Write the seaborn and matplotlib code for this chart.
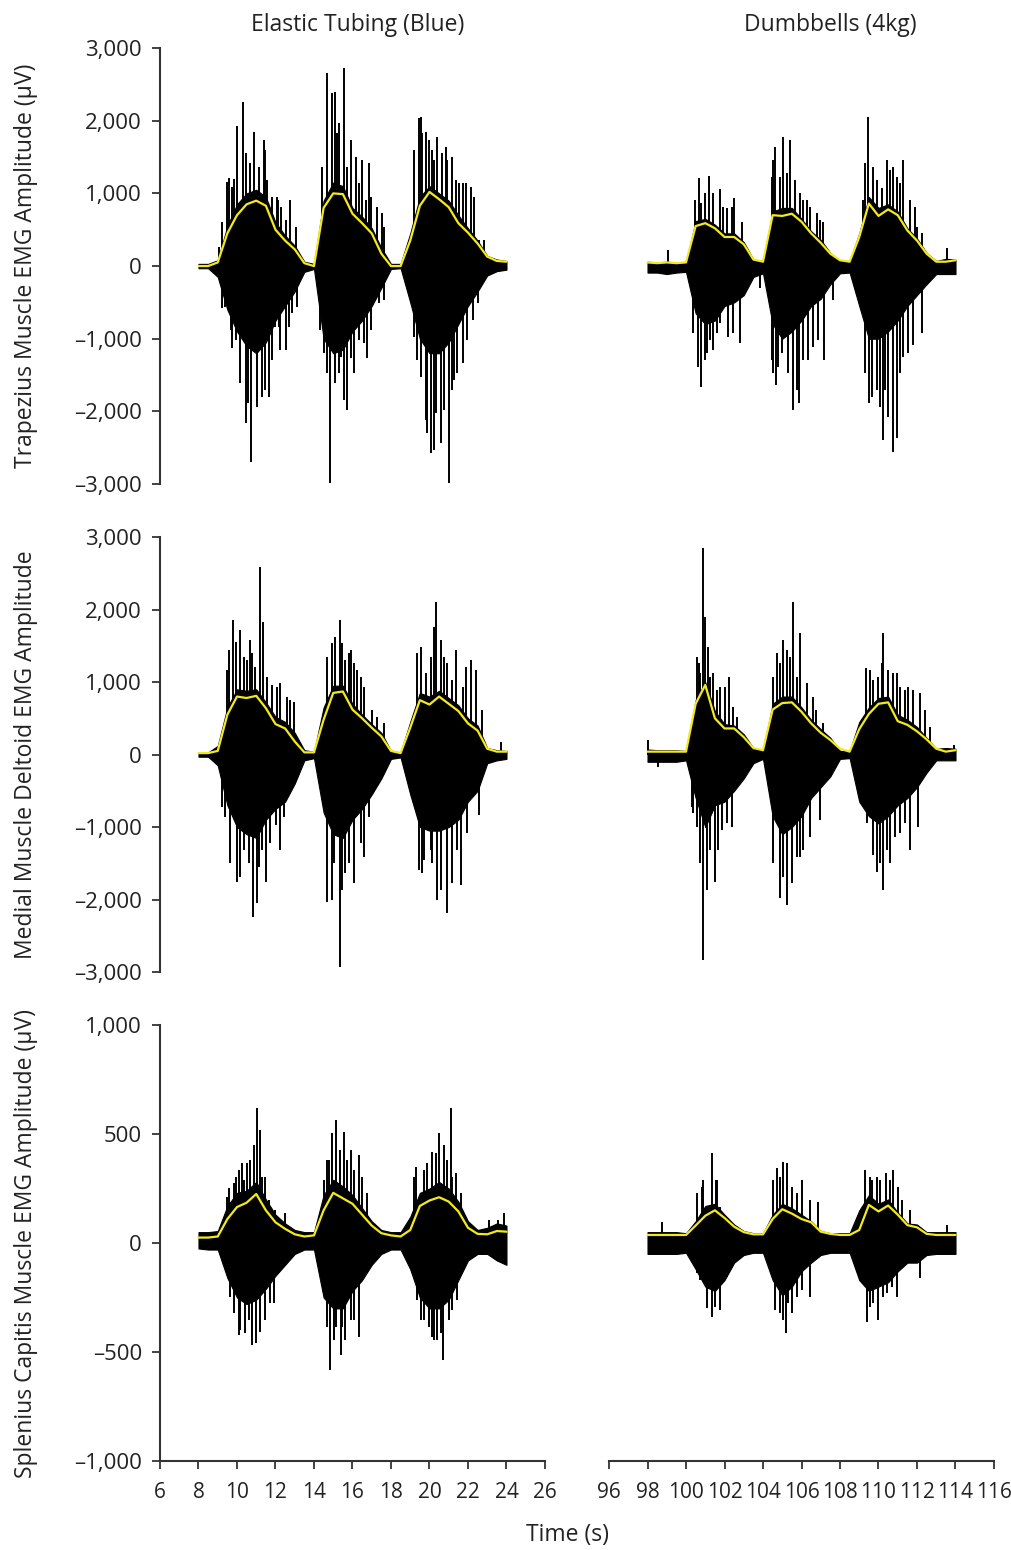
import numpy as np
import pandas as pd
import seaborn as sns
import matplotlib.pyplot as plt
from matplotlib.ticker import FuncFormatter

# sampling instants for the envelopes (0.5 s)
t_left = np.arange(8, 24.01, 0.5)
t_right = np.arange(98, 114.01, 0.5)

# ---------- Trapezius ----------
trap_el_rms = [0, 0, 50, 450, 700, 850, 900, 830, 500, 350, 230, 40, 0, 800, 1000, 990, 720,
               590, 450, 170, 0, 0, 350, 830, 1020, 920, 810, 590, 460, 310, 130, 70, 60]
trap_el_hi = [30, 30, 80, 550, 850, 1000, 1050, 950, 600, 420, 280, 60, 30, 900, 1150, 1100, 800,
              680, 520, 250, 30, 30, 450, 950, 1100, 1000, 900, 700, 520, 350, 140, 90, 70]
trap_el_lo = [-30, -30, -150, -600, -900, -1100, -1200, -1050, -750, -550, -350, -80, -40, -1000, -1200,
              -1150, -900, -750, -550, -300, -40, -30, -500, -1000, -1200, -1200, -1050, -800, -550,
              -350, -130, -70, -50]
trap_el_spk_t = [9.04, 9.2, 9.61, 9.73, 9.99, 10.29, 10.46, 10.65, 10.9, 11.12, 11.38, 11.47, 11.82, 12.3,
                 12.56, 12.77, 14.68, 14.94, 15.11, 15.29, 15.55, 15.9, 16.19, 16.5, 16.85, 16.94, 17.28,
                 17.51, 19.45, 19.54, 19.8, 19.97, 20.15, 20.41, 20.67, 20.93, 21.16, 21.54, 21.89, 22.15,
                 22.58,
                 9.21, 9.7, 10.17, 10.46, 10.74, 11.03, 11.29, 11.64, 11.99, 12.25, 12.56, 12.86, 14.51,
                 14.85, 15.11, 15.38, 15.72, 16.07, 16.33, 16.59, 16.94, 17.37, 19.19, 19.54, 19.8, 20.06,
                 20.32, 20.58, 21.02, 21.28, 21.72, 22.24, 22.5,
                 9.5, 9.85, 11.55, 12.08, 12.12, 13.05, 14.42, 15.2, 15.72, 16.33, 16.68, 17.63, 19.19,
                 19.63, 20.24, 20.84, 21.37, 21.72, 22.32, 22.84,
                 9.4, 9.75, 9.95, 10.55, 11.47, 11.82, 12.16, 12.69, 13.12, 14.33, 14.68, 15.29, 15.55,
                 15.9, 16.77, 17.63, 19.37, 19.89, 20.24, 20.75, 21.19, 21.45, 21.97]
trap_el_spk_v = [266, 600, 1206, 1090, 1927, 2261, 1560, 1422, 1850, 1367, 1734, 1596, 954, 817,
                 633, 908, 2651, 2376, 2399, 1963, 2720, 1734, 1505, 1459, 1413, 954, 817,
                 725, 2032, 2055, 1850, 1734, 1596, 1780, 1550, 1459, 1505, 1138, 1138, 1092,
                 358,
                 -583, -880, -1615, -2165, -2693, -1936, -1798, -1798, -835, -1156, -1156, -651, -1202,
                 -2991, -1615, -1248, -1982, -1477, -1018, -1064, -880, -514, -972, -1523, -2119, -2578,
                 -2028, -2440, -2991, -1569, -1340, -743, -514,
                 1150, 1200, 1180, 950, 908, 541, 1367, 1825, 1367, 1138, 908, 541, 1596,
                 1825, 1459, 1642, 1183, 1138, 954, 358,
                 -560, -1130, -1018, -1890, -1706, -1293, -835, -835, -560, -880, -1477, -1477, -1844,
                 -1270, -1270, -468, -1294, -2303, -2532, -1982, -1706, -1477, -1018]

trap_db_rms = [50, 40, 50, 40, 50, 550, 590, 520, 400, 400, 300, 90, 60, 700, 690, 720, 610,
               450, 320, 170, 80, 60, 400, 860, 690, 780, 700, 490, 350, 170, 60, 60, 80]
trap_db_hi = [60, 50, 60, 50, 50, 620, 650, 570, 450, 450, 330, 90, 70, 750, 800, 800, 650,
              480, 360, 180, 70, 70, 450, 950, 800, 850, 750, 520, 380, 180, 70, 100, 90]
trap_db_lo = [-90, -90, -110, -90, -80, -650, -800, -750, -550, -500, -400, -150, -100, -800, -1000,
              -900, -750, -550, -450, -250, -100, -90, -550, -1000, -1000, -900, -750, -550, -400,
              -250, -110, -110, -110]
trap_db_spk_t = [99.05, 100.69, 100.8, 101.17, 101.77, 102.12, 102.51, 102.89, 104.45, 104.62, 105.06,
                 105.4, 105.66, 106.1, 106.44, 106.79, 107.13, 109.3, 109.47, 109.73, 110.16, 110.46,
                 110.77, 110.94, 111.29, 111.9, 112.24, 113.54,
                 100.6, 100.78, 101.1, 101.42, 101.77, 102.2, 102.8, 103.84, 104.45, 104.66, 104.97,
                 105.57, 105.88, 106.1, 106.62, 107.18, 107.66, 109.52, 109.9, 110.21, 110.5, 110.73,
                 110.94, 111.29, 111.81, 112.24,
                 100.47, 100.99, 101.42, 101.94, 102.37, 104.54, 104.88, 105.23, 105.92, 106.27, 106.96,
                 109.21, 109.9, 110.59, 111.12, 111.64, 111.98,
                 100.38, 100.99, 101.25, 101.59, 102.46, 104.54, 104.8, 105.32, 105.75, 106.36, 106.88,
                 109.3, 109.64, 110.07, 110.33, 111.12, 111.55]
trap_db_spk_v = [220, 1206, 862, 1239, 1060, 794, 931, 610, 1229, 1642, 1780,
                 1734, 1183, 908, 817, 725, 610, 1413, 2055, 1367, 1069, 1459,
                 1367, 1229, 1459, 817, 450, 243,
                 -1385, -1661, -1202, -1156, -789, -972, -1064, -300, -1294, -1638, -1202,
                 -1982, -1890, -1294, -1110, -1294, -468, -1890, -1706, -2394, -2073, -2555,
                 -2372, -1248, -1087, -927,
                 908, 1000, 1000, 817, 817, 1459, 1229, 1275, 1000, 908, 633,
                 908, 1183, 1321, 1138, 908, 541,
                 -927, -1294, -1018, -927, -927, -1477, -1385, -1477, -1706, -1294, -1018,
                 -1477, -1798, -1936, -1706, -1477, -1202]

# ---------- Medial deltoid ----------
delt_el_rms = [20, 20, 50, 550, 800, 780, 810, 640, 420, 360, 180, 30, 30, 480, 850, 870, 620,
               500, 370, 250, 50, 20, 370, 750, 690, 800, 700, 600, 430, 330, 80, 40, 40]
delt_el_hi = [30, 30, 120, 650, 900, 880, 900, 720, 520, 450, 300, 60, 40, 650, 950, 950, 700,
              550, 420, 300, 50, 30, 450, 850, 800, 880, 780, 680, 500, 400, 90, 60, 50]
delt_el_lo = [-30, -30, -150, -700, -1000, -1100, -1150, -900, -750, -650, -400, -80, -50, -800, -1100,
              -1150, -900, -750, -550, -330, -60, -40, -550, -1000, -1050, -1050, -1000, -900, -650,
              -500, -120, -80, -60]
delt_el_spk_t = [9.61, 9.79, 9.96, 10.17, 10.51, 10.77, 10.94, 11.17, 11.34, 11.82, 12.25, 12.6, 12.98,
                 14.94, 15.11, 15.33, 15.59, 15.9, 16.24, 16.59, 17.02, 17.63, 19.54, 20.06, 20.32,
                 20.58, 20.93, 21.37, 21.89, 22.15, 22.41, 22.72, 23.7,
                 9.21, 9.38, 9.99, 10.34, 10.81, 11.12, 11.52, 11.73, 12.04, 12.42, 14.68, 14.94, 15.33,
                 15.63, 16.1, 16.42, 16.85, 19.45, 19.71, 20.06, 20.37, 20.93, 21.63, 21.97, 22.58,
                 9.47, 10.34, 10.69, 11.55, 12.08, 12.77, 14.68, 15.46, 15.81, 16.07, 16.42, 17.28,
                 19.37, 19.8, 20.24, 20.75, 21.19, 21.72,
                 9.65, 10.17, 10.6, 11.03, 11.29, 12.25, 15.03, 15.46, 15.81, 16.59, 19.62, 20.15,
                 20.58, 21.19, 21.45]
delt_el_spk_v = [1441, 1855, 1556, 1717, 1303, 1395, 1211, 2591, 1832, 961, 982, 798, 729,
                 1533, 1625, 1855, 1303, 1441, 1166, 936, 614, 430, 1487, 1349, 2108,
                 1579, 1257, 1441, 1211, 1303, 1166, 614, 177,
                 -720, -857, -1754, -1317, -2237, -1547, -1754, -1225, -972, -857, -2030, -2007, -2926,
                 -1639, -1777, -1225, -857, -1593, -1455, -1317, -2007, -2191, -1800, -1087, -834,
                 1165, 1349, 1579, 1073, 936, 752, 1349, 1533, 1395, 1257, 1073, 522,
                 1395, 1119, 1763, 1349, 1027, 936,
                 -1501, -1685, -1501, -2053, -1317, -1317, -1501, -1869, -1501, -1409, -1639, -1501,
                 -1869, -1777, -1317]

delt_db_rms = [40, 40, 40, 40, 40, 700, 960, 500, 360, 360, 240, 90, 60, 620, 710, 720, 590,
               430, 300, 200, 80, 40, 350, 560, 700, 720, 460, 410, 320, 210, 80, 40, 60]
delt_db_hi = [70, 60, 60, 60, 50, 750, 1000, 600, 420, 400, 280, 90, 50, 700, 800, 800, 650,
              480, 350, 230, 50, 50, 450, 650, 780, 800, 550, 480, 380, 230, 80, 90, 80]
delt_db_lo = [-100, -100, -100, -100, -80, -600, -1000, -700, -650, -500, -330, -120, -60, -850,
              -1100, -1000, -850, -600, -450, -300, -60, -50, -650, -850, -950, -850, -700, -600,
              -450, -250, -80, -80, -80]
delt_db_spk_t = [98.04, 100.69, 100.87, 100.99, 101.16, 101.42, 101.77, 102.25, 102.63, 104.71, 105.02,
                 105.23, 105.57, 105.92, 106.27, 106.75, 107.13, 109.33, 109.73, 110.16, 110.25, 110.77,
                 111.12, 111.38, 111.81, 112.15, 112.67, 113.9,
                 98.56, 100.29, 100.55, 100.9, 101.07, 101.5, 101.85, 102.37, 104.88, 105.23, 105.49,
                 105.92, 106.44, 109.73, 109.9, 110.25, 110.59, 111.12, 111.64, 112.07,
                 100.55, 100.73, 101.25, 101.6, 102.03, 102.46, 104.54, 104.88, 105.4, 105.75, 106.62,
                 109.56, 109.99, 110.5, 110.94, 111.55, 112.41,
                 100.38, 100.73, 101.25, 101.68, 102.12, 104.54, 105.06, 105.75, 106.1, 106.96, 109.38,
                 110.07, 110.42, 110.85, 111.38]
delt_db_spk_v = [200, 1257, 2844, 1901, 1487, 1119, 936, 1073, 522, 1395, 1579,
                 1441, 2108, 1671, 982, 614, 430, 1188, 1027, 1257, 1671, 1119,
                 936, 890, 890, 844, 384, 131,
                 -168, -720, -995, -2834, -1869, -1754, -1041, -995, -1984, -2076, -1777,
                 -1409, -1133, -1386, -1616, -1869, -1501, -1087, -1317, -995,
                 1349, 1119, 1073, 890, 936, 660, 1073, 1257, 1349, 1073, 798,
                 1165, 1073, 1165, 1119, 936, 614,
                 -811, -1501, -1317, -1317, -949, -1501, -1685, -1409, -1317, -903, -949,
                 -1501, -1317, -1133, -949]

# ---------- Splenius capitis ----------
spl_el_rms = [25, 25, 30, 110, 165, 185, 225, 150, 95, 65, 40, 30, 35, 150, 230, 205, 180,
              130, 80, 45, 35, 30, 60, 170, 195, 210, 190, 145, 70, 42, 40, 55, 52]
spl_el_hi = [50, 50, 55, 170, 230, 240, 280, 200, 130, 90, 60, 50, 50, 220, 290, 260, 220,
             160, 100, 60, 50, 50, 120, 230, 250, 280, 250, 190, 100, 60, 70, 90, 80]
spl_el_lo = [-25, -30, -30, -160, -250, -280, -260, -210, -150, -100, -50, -30, -30, -250, -300,
             -300, -220, -170, -100, -50, -30, -30, -120, -250, -300, -300, -260, -170, -80, -50,
             -50, -80, -100]
spl_el_spk_t = [9.61, 9.96, 10.26, 10.51, 10.86, 11.03, 11.2, 11.47, 11.99, 12.51, 14.68, 14.94, 15.16,
                15.33, 15.55, 15.9, 16.33, 16.77, 19.28, 19.71, 20.15, 20.5, 20.75, 21.1, 21.37, 23.1,
                23.88,
                9.65, 10.08, 10.43, 10.77, 11.2, 11.47, 11.94, 14.59, 14.85, 15.16, 15.38, 15.63, 15.9,
                16.33, 19.37, 19.71, 20.15, 20.41, 20.72, 21.02, 21.45, 23.9,
                9.47, 9.82, 10.08, 10.34, 10.69, 11.29, 11.64, 14.51, 14.77, 15.72, 16.1, 16.5, 19.19,
                19.89, 20.32, 20.93, 21.19, 21.63, 23.54,
                9.82, 10.17, 10.6, 11.0, 11.73, 14.68, 15.03, 15.46, 16.07, 19.54, 19.97, 20.24,
                20.58, 21.19]
spl_el_spk_v = [251, 304, 365, 365, 450, 618, 518, 304, 151, 136, 381, 503, 564,
                427, 511, 427, 404, 228, 350, 335, 419, 503, 450, 618, 320, 105,
                136,
                -246, -422, -414, -468, -407, -353, -277, -200, -583, -384, -514, -445, -353,
                -430, -261, -353, -430, -445, -537, -353, -261, -70,
                213, 274, 335, 289, 381, 304, 197, 289, 381, 381, 335, 304, 304,
                365, 411, 381, 304, 228, 105,
                -323, -399, -353, -460, -277, -384, -445, -384, -353, -353, -384, -445,
                -414, -307]

spl_db_rms = [37, 37, 37, 37, 37, 80, 125, 150, 115, 75, 50, 40, 40, 110, 155, 135, 110,
              95, 52, 42, 37, 37, 60, 175, 145, 172, 130, 82, 72, 42, 37, 37, 37]
spl_db_hi = [50, 50, 50, 50, 45, 100, 170, 180, 130, 85, 55, 45, 45, 130, 180, 160, 130,
             100, 55, 45, 45, 45, 150, 220, 180, 200, 140, 90, 85, 50, 50, 50, 50]
spl_db_lo = [-50, -50, -50, -50, -45, -120, -200, -220, -170, -90, -55, -45, -45, -170, -240,
             -200, -130, -90, -55, -45, -45, -45, -170, -220, -200, -180, -130, -90, -90, -55,
             -50, -50, -50]
spl_db_spk_t = [98.74, 100.82, 101.07, 101.33, 101.56, 101.77, 104.71, 105.06, 105.23, 105.49, 106.01,
                106.44, 106.88, 109.3, 109.64, 109.9, 110.37, 110.77, 111.03, 111.21, 113.54,
                98.2, 100.73, 101.07, 101.33, 101.77, 102.12, 104.62, 104.88, 105.19, 105.49, 106.01,
                106.44, 109.38, 109.56, 109.99, 110.42, 110.94, 112.15,
                100.56, 100.9, 101.6, 104.54, 104.88, 105.75, 109.56, 110.07, 110.59, 111.64,
                100.56, 101.5, 105.06, 105.32, 105.75, 109.73, 110.25, 110.68]
spl_db_spk_v = [98, 258, 167, 411, 289, 167, 343, 373, 365, 258, 289,
                197, 190, 335, 289, 304, 320, 335, 258, 197, 83,
                -47, -170, -300, -338, -307, -154, -307, -323, -414, -323, -216,
                -246, -361, -292, -353, -231, -246, -162,
                228, 289, 289, 289, 304, 228, 304, 289, 289, 151,
                -139, -292, -353, -277, -246, -277, -246, -200]

row_labels = ["Trapezius Muscle EMG Amplitude (\u00b5V)",
              "Medial Muscle Deltoid EMG Amplitude",
              "Splenius Capitis Muscle EMG Amplitude (\u00b5V)"]
col_titles = ["Elastic Tubing (Blue)", "Dumbbells (4kg)"]

panels = [
    [(trap_el_rms, trap_el_hi, trap_el_lo, trap_el_spk_t, trap_el_spk_v),
     (trap_db_rms, trap_db_hi, trap_db_lo, trap_db_spk_t, trap_db_spk_v)],
    [(delt_el_rms, delt_el_hi, delt_el_lo, delt_el_spk_t, delt_el_spk_v),
     (delt_db_rms, delt_db_hi, delt_db_lo, delt_db_spk_t, delt_db_spk_v)],
    [(spl_el_rms, spl_el_hi, spl_el_lo, spl_el_spk_t, spl_el_spk_v),
     (spl_db_rms, spl_db_hi, spl_db_lo, spl_db_spk_t, spl_db_spk_v)],
]

sns.set_style("ticks")
plt.rcParams['font.family'] = ['Open Sans', 'DejaVu Sans']

fig = plt.figure(figsize=(10.12, 15.5), dpi=100)

lefts = [0.1581, 0.6018]
bottoms = [0.6877, 0.3729, 0.0574]
heights = [0.2813, 0.2806, 0.2813]
w = 0.3804

fmt = FuncFormatter(lambda v, _: f"{v:,.0f}".replace("-", "\u2013"))

for r in range(3):
    for c in range(2):
        ax = fig.add_axes([lefts[c], bottoms[r], w, heights[r]])
        rms, hi, lo, st, sv = panels[r][c]
        t = t_left if c == 0 else t_right
        ax.fill_between(t, lo, hi, color="black", lw=0.8, zorder=2)
        ax.vlines(st, 0, sv, color="black", lw=1.4, zorder=3)
        df = pd.DataFrame({"t": t, "rms": rms})
        sns.lineplot(data=df, x="t", y="rms", ax=ax, color="#f2ea1c", lw=1.6, zorder=4)

        if r < 2:
            ax.set_ylim(-3000, 3000)
            ax.set_yticks(np.arange(-3000, 3001, 1000))
        else:
            ax.set_ylim(-1000, 1000)
            ax.set_yticks(np.arange(-1000, 1001, 500))
        if c == 0:
            ax.set_xlim(6, 26)
            ax.set_xticks(np.arange(6, 27, 2))
        else:
            ax.set_xlim(96, 116)
            ax.set_xticks(np.arange(96, 117, 2))

        ax.yaxis.set_major_formatter(fmt)
        ax.tick_params(axis="both", direction="out", length=6, width=1.2, labelsize=16,
                       colors="#222222")
        ax.tick_params(axis="y", pad=7)
        ax.tick_params(axis="x", labelsize=15, pad=9)
        for lab in ax.get_xticklabels():
            lab.set_fontfamily(['Liberation Sans Narrow', 'Open Sans'])
        for s in ax.spines.values():
            s.set_linewidth(1.5)
            s.set_color("#333333")
        ax.spines["top"].set_visible(False)
        ax.spines["right"].set_visible(False)
        ax.set_xlabel("")
        ax.set_ylabel("")
        if c == 0:
            ax.set_ylabel(row_labels[r], fontsize=16.5, labelpad=26, color="#222222")
        else:
            ax.spines["left"].set_visible(False)
            ax.tick_params(axis="y", left=False, labelleft=False)
        if r < 2:
            ax.spines["bottom"].set_visible(False)
            ax.tick_params(axis="x", bottom=False, labelbottom=False)
        ax.patch.set_alpha(0)

fig.text(358 / 1012, 1 - 25 / 1550, col_titles[0], ha="center", va="center", fontsize=16.5,
         color="#222222")
fig.text(830 / 1012, 1 - 25 / 1550, col_titles[1], ha="center", va="center", fontsize=16.5,
         color="#222222")
fig.text(568 / 1012, 1 - 1535 / 1550, "Time (s)", ha="center", va="center", fontsize=16.5,
         color="#222222")

fig.savefig("out.png", dpi=100, facecolor="white")
